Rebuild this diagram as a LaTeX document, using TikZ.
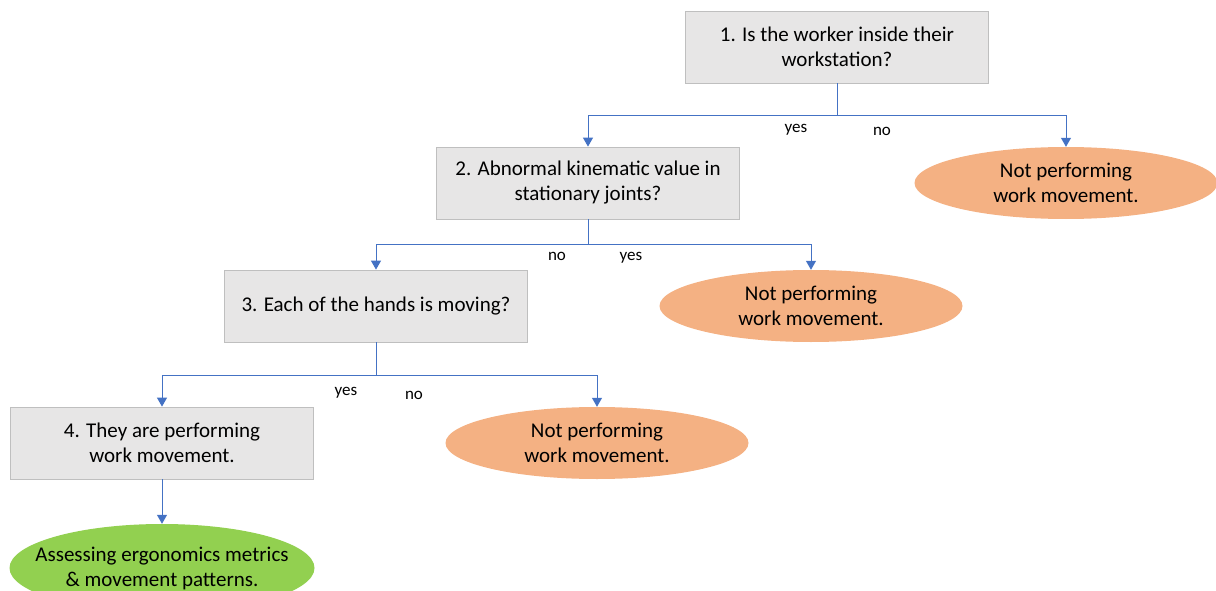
\documentclass[tikz,border=0pt]{standalone}
\usepackage{fontspec}
\setmainfont{Carlito}
\usetikzlibrary{arrows.meta,shapes.geometric}
\definecolor{boxfill}{HTML}{E7E6E6}
\definecolor{boxline}{HTML}{BFBFBF}
\definecolor{orangefill}{HTML}{F4B183}
\definecolor{greenfill}{HTML}{92D050}
\definecolor{linkblue}{HTML}{4472C4}
\begin{document}
\begin{tikzpicture}[x=1pt,y=-1pt,
  qbox/.style={draw=boxline,fill=boxfill,line width=0.8pt,minimum width=303pt,minimum height=72pt,inner sep=0pt,align=center,font=\fontsize{21}{25}\selectfont},
  obox/.style={ellipse,fill=orangefill,draw=none,minimum width=303pt,minimum height=72pt,inner sep=0pt,align=center,font=\fontsize{21}{25}\selectfont},
  gbox/.style={ellipse,fill=greenfill,draw=none,minimum width=305pt,minimum height=88pt,inner xsep=-40pt,inner ysep=-10pt,align=center,font=\fontsize{21}{25}\selectfont},
  link/.style={draw=linkblue,line width=1pt},
  arr/.style={link,-{Triangle[width=10pt,length=9pt]}},
  lbl/.style={font=\fontsize{17}{20}\selectfont,inner sep=0pt}]
\useasboundingbox (0,0) rectangle (1216,591);
\node[qbox] (q1) at (837,47) {1. Is the worker inside their\\workstation?};
\node[qbox] (q2) at (588,183) {2. Abnormal kinematic value in\\stationary joints?};
\node[qbox] (q3) at (376,306) {3. Each of the hands is moving?};
\node[qbox] (q4) at (162,443) {4. They are performing\\work movement.};
\node[obox] (e1) at (1066,183) {Not performing\\work movement.};
\node[obox] (e2) at (811,306) {Not performing\\work movement.};
\node[obox] (e3) at (597,443) {Not performing\\work movement.};
\node[gbox] (g) at (162,568) {Assessing ergonomics metrics\\\& movement patterns.};
% connectors
\coordinate (j1) at (837,116);
\draw[link] (q1.south) -- (j1);
\draw[arr] (j1) -| (q2.north);
\draw[arr] (j1) -| (e1.north);
\coordinate (j2) at (588,244);
\draw[link] (q2.south) -- (j2);
\draw[arr] (j2) -| (q3.north);
\draw[arr] (j2) -| (e2.north);
\coordinate (j3) at (376,375);
\draw[link] (q3.south) -- (j3);
\draw[arr] (j3) -| (q4.north);
\draw[arr] (j3) -| (e3.north);
\draw[arr] (q4.south) -- (g.north);
% labels
\node[lbl] (l1) at (796,130) {yes};
\node[lbl] (l2) at (882,131) {no};
\node[lbl] (l3) at (557,256) {no};
\node[lbl] (l4) at (631,258) {yes};
\node[lbl] (l5) at (346,393) {yes};
\node[lbl] (l6) at (414,395) {no};
\end{tikzpicture}
\end{document}
